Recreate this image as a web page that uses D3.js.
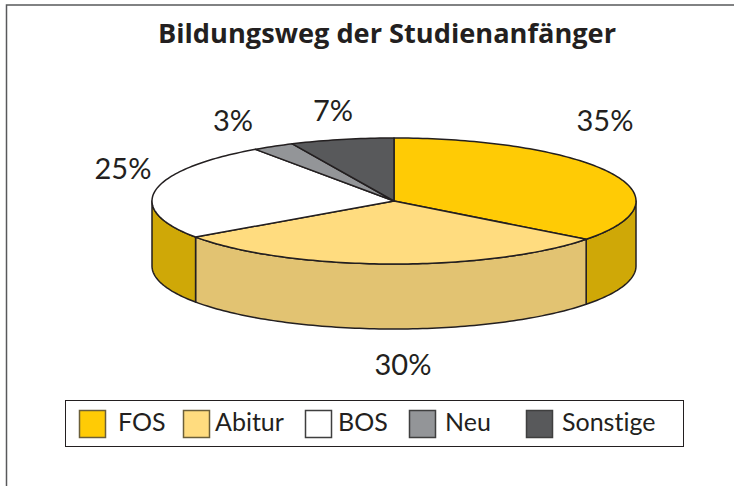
<!DOCTYPE html>
<html><head><meta charset="utf-8">
<script src="https://cdn.jsdelivr.net/npm/d3@7/dist/d3.min.js"></script>
<style>html,body{margin:0;padding:0;background:#fff}svg{display:block}
text{font-family:Lato,"Open Sans",sans-serif;fill:#231f20;font-variant-ligatures:none}</style></head><body>
<svg id="c" width="734" height="486"></svg>
<script>
const categories = ["FOS","Abitur","BOS","Neu","Sonstige"];
const values = [35.4,29.9,25,2.8,6.9];
const labels = ["35%","30%","25%","3%","7%"];
const topColors = ["#ffcb05","#ffdc7f","#ffffff","#939598","#58595b"];
const sideColors = ["#cfa807","#e2c372","#cfa807","#777777","#444444"];
const legendStroke = ["#6b5f3a","#6b5f3a","#3f3f3f","#3f3f3f","#3f3f3f"];
const titleText = "Bildungsweg der Studienanfänger";

const svg = d3.select("#c");
const cx = 394, cy = 201, rx = 242, ry = 63, depth = 65;
const stroke = "#231f20";

svg.append("path").attr("d", "M6.5 486V5H734").attr("fill","none").attr("stroke","#58595b").attr("stroke-width",1.5);

svg.append("text").attr("x",387).attr("y",43).attr("text-anchor","middle")
  .style("font-family","'Open Sans',sans-serif")
  .attr("font-size",27.2).attr("font-weight",700).text(titleText);

const arcs = d3.pie().sort(null)(values);
const px = d3.scaleLinear().domain([-1,1]).range([cx-rx,cx+rx]);
const py = d3.scaleLinear().domain([-1,1]).range([cy-ry,cy+ry]);
const pt = (a,dz=0)=>[px(Math.sin(a)), py(-Math.cos(a))+dz];
const line = d3.line();
const sample = (a0,a1,dz=0)=>{
  const n = Math.max(2,Math.ceil(Math.abs(a1-a0)/0.02));
  return d3.range(n+1).map(i=>pt(a0+(a1-a0)*i/n,dz));
};

const lo = Math.PI/2, hi = 3*Math.PI/2;
arcs.forEach((d,i)=>{
  const a0 = Math.max(d.startAngle,lo), a1 = Math.min(d.endAngle,hi);
  if (a1<=a0) return;
  const pts = sample(a0,a1).concat(sample(a1,a0,depth));
  svg.append("path").attr("d",line(pts)+"Z").attr("fill",sideColors[i])
    .attr("stroke",stroke).attr("stroke-width",1.5).attr("stroke-linejoin","round");
});
arcs.forEach((d,i)=>{
  const pts = [[cx,cy]].concat(sample(d.startAngle,d.endAngle));
  svg.append("path").attr("d",line(pts)+"Z").attr("fill",topColors[i])
    .attr("stroke",stroke).attr("stroke-width",1.5).attr("stroke-linejoin","round");
});

const labelOffset = [[211,-70],[9,174],[-271,-22],[-161,-70],[-61,-80]];
labels.forEach((t,i)=>{
  svg.append("text").attr("x",cx+labelOffset[i][0]).attr("y",cy+labelOffset[i][1])
    .attr("text-anchor","middle").attr("font-size",29).text(t);
});

svg.append("rect").attr("x",65.5).attr("y",400.5).attr("width",618).attr("height",46)
  .attr("fill","#fff").attr("stroke","#231f20").attr("stroke-width",1);
const legendSwatchX = d3.scaleOrdinal().domain(categories).range([79,183,305,409,526]);
const legendTextX = d3.scaleOrdinal().domain(categories).range([118,215,338,445,562]);
categories.forEach((c,i)=>{
  svg.append("rect").attr("x",legendSwatchX(c)+.5).attr("y",410.5).attr("width",26).attr("height",27)
    .attr("fill",topColors[i]).attr("stroke",legendStroke[i]).attr("stroke-width",1.5);
  svg.append("text").attr("x",legendTextX(c)).attr("y",431).attr("font-size",25).text(c);
});
</script></body></html>
